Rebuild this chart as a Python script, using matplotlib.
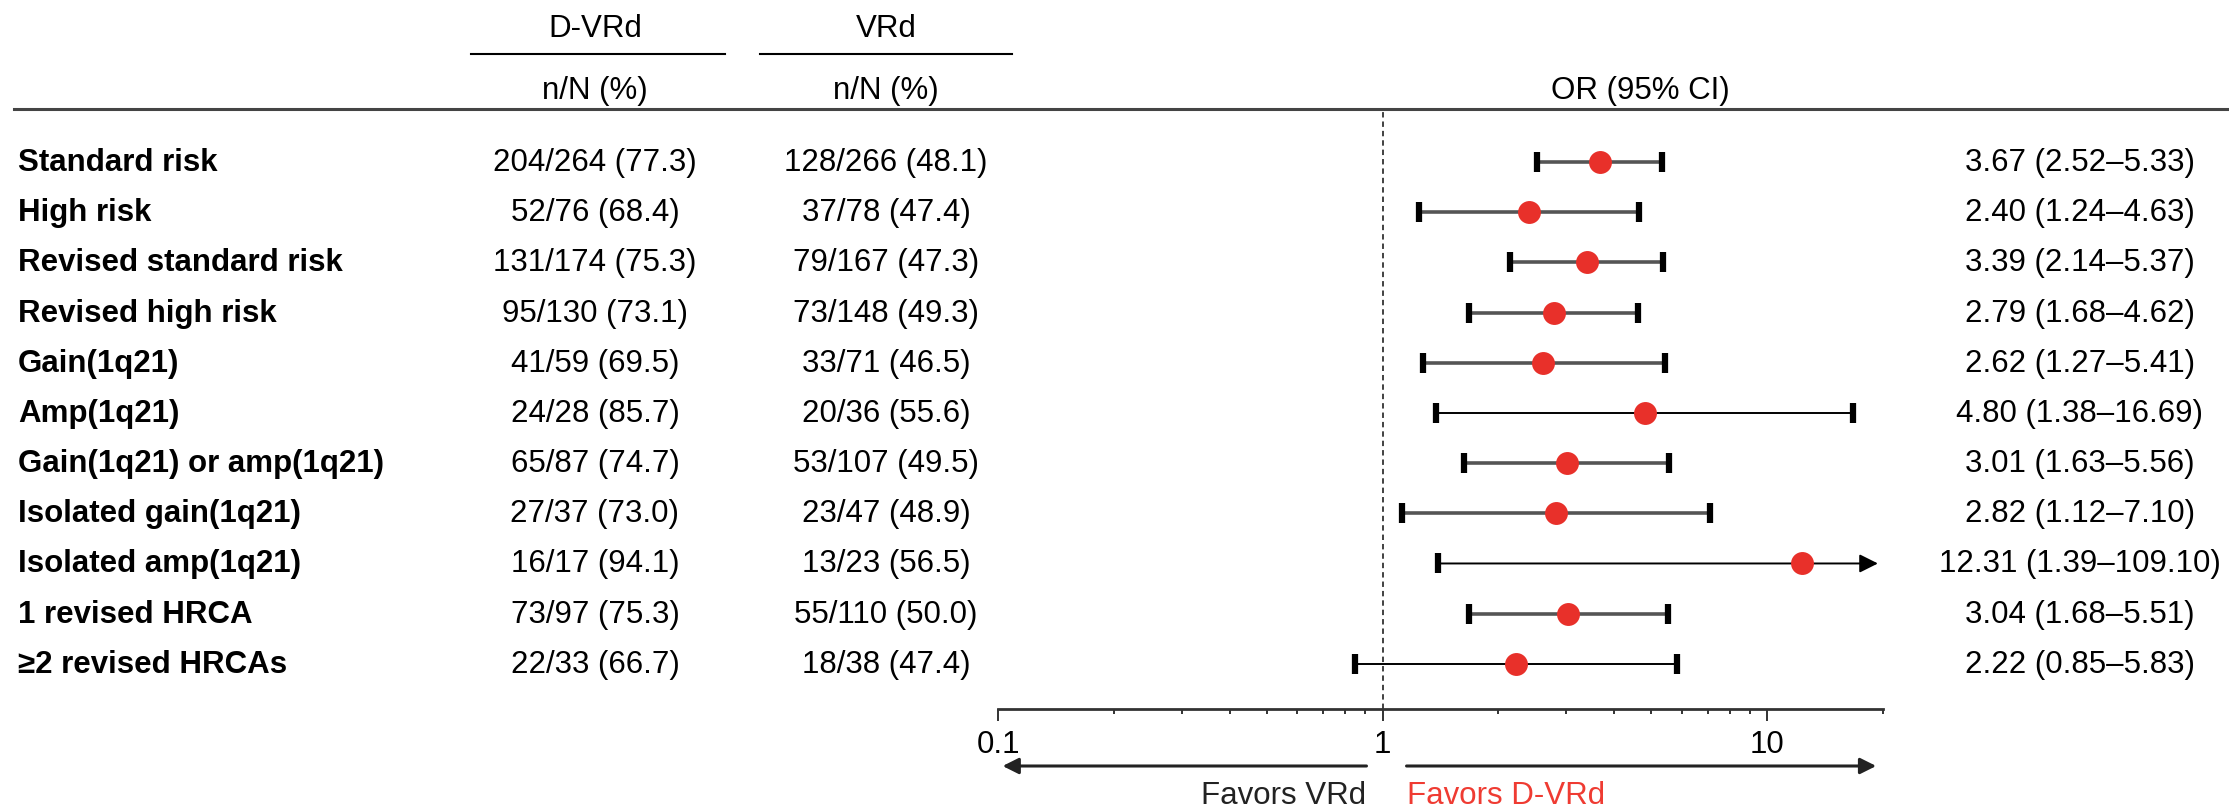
import numpy as np
import matplotlib.pyplot as plt
from matplotlib.lines import Line2D
from matplotlib.ticker import FixedLocator, NullFormatter
from matplotlib.transforms import blended_transform_factory

plt.rcParams['font.family'] = ['Liberation Sans', 'DejaVu Sans']

# -----------------------------
# 1. Dados
# -----------------------------
subgrupos = ['Standard risk', 'High risk', 'Revised standard risk', 'Revised high risk',
             'Gain(1q21)', 'Amp(1q21)', 'Gain(1q21) or amp(1q21)', 'Isolated gain(1q21)',
             'Isolated amp(1q21)', '1 revised HRCA', '≥2 revised HRCAs']
dvrd_n = [204, 52, 131, 95, 41, 24, 65, 27, 16, 73, 22]
dvrd_N = [264, 76, 174, 130, 59, 28, 87, 37, 17, 97, 33]
dvrd_pct = [77.3, 68.4, 75.3, 73.1, 69.5, 85.7, 74.7, 73.0, 94.1, 75.3, 66.7]
vrd_n = [128, 37, 79, 73, 33, 20, 53, 23, 13, 55, 18]
vrd_N = [266, 78, 167, 148, 71, 36, 107, 47, 23, 110, 38]
vrd_pct = [48.1, 47.4, 47.3, 49.3, 46.5, 55.6, 49.5, 48.9, 56.5, 50.0, 47.4]
odds = [3.67, 2.40, 3.39, 2.79, 2.62, 4.80, 3.01, 2.82, 12.31, 3.04, 2.22]
ic_inf = [2.52, 1.24, 2.14, 1.68, 1.27, 1.38, 1.63, 1.12, 1.39, 1.68, 0.85]
ic_sup = [5.33, 4.63, 5.37, 4.62, 5.41, 16.69, 5.56, 7.10, 109.10, 5.51, 5.83]

x_min, x_max = 0.1, 20
ticks_maiores = [0.1, 1, 10]
ticks_menores = [0.2, 0.3, 0.4, 0.5, 0.6, 0.7, 0.8, 0.9, 2, 3, 4, 5, 6, 7, 8, 9, 20]

# -----------------------------
# 2. Layout (pixels)
# -----------------------------
W, H = 2229, 812
FS = 22.5
VERMELHO = '#e8302a'
linhas_finas = {5, 8, 10}

def fx(px):
    return px / W

def fy(py):
    return 1 - py / H

fig = plt.figure(figsize=(W / 100, H / 100), dpi=100)
ax = fig.add_axes([fx(998), fy(710), fx(885), 600 / H])
ax.set_xscale('log')
ax.set_xlim(x_min, x_max)
ax.set_ylim(10.9, -1.056)

# -----------------------------
# 3. Forest plot
# -----------------------------
ax.axvline(1, color='#333333', ls=(0, (3, 2.2)), lw=1.3, zorder=1)

for i in range(len(subgrupos)):
    fino = i in linhas_finas
    cor = 'black' if fino else '#555555'
    lw = 1.4 if fino else 2.6
    if ic_sup[i] > x_max:
        ax.annotate('', xy=(19.4, i), xytext=(ic_inf[i], i),
                    arrowprops=dict(arrowstyle='-|>', color='black', lw=lw,
                                    mutation_scale=28, shrinkA=0, shrinkB=0))
        ax.plot([ic_inf[i]], [i], marker='|', ms=14.5, mew=4.5, color='black', zorder=3)
    else:
        ax.plot([ic_inf[i], ic_sup[i]], [i, i], color=cor, lw=lw, zorder=2,
                solid_capstyle='butt')
        ax.plot([ic_inf[i], ic_sup[i]], [i, i], ls='none', marker='|', ms=14.5, mew=4.5,
                color='black', zorder=3)
    ax.plot(odds[i], i, 'o', ms=16.5, color=VERMELHO, mec='none', zorder=4)

# eixo
for lado in ['top', 'left', 'right']:
    ax.spines[lado].set_visible(False)
ax.spines['bottom'].set_linewidth(2)
ax.spines['bottom'].set_color('#333333')
ax.set_yticks([])
ax.xaxis.set_major_locator(FixedLocator(ticks_maiores))
ax.set_xticklabels(['0.1', '1', '10'])
ax.xaxis.set_minor_locator(FixedLocator(ticks_menores))
ax.xaxis.set_minor_formatter(NullFormatter())
ax.tick_params(axis='x', which='major', length=8.6, width=1.4, pad=6, labelsize=FS,
               color='#333333')
ax.tick_params(axis='x', which='minor', length=3.6, width=1.4, color='#333333')

# setas "Favors"
y_seta = (710 - 767) / 600
ax.annotate('', xy=(0.1028, y_seta), xytext=(0.908, y_seta),
            xycoords=('data', 'axes fraction'), textcoords=('data', 'axes fraction'),
            arrowprops=dict(arrowstyle='-|>', color='#222222', lw=2.2, mutation_scale=24,
                            shrinkA=0, shrinkB=0), annotation_clip=False)
ax.annotate('', xy=(19.2, y_seta), xytext=(1.154, y_seta),
            xycoords=('data', 'axes fraction'), textcoords=('data', 'axes fraction'),
            arrowprops=dict(arrowstyle='-|>', color='#222222', lw=2.2, mutation_scale=24,
                            shrinkA=0, shrinkB=0), annotation_clip=False)
y_fav = (710 - 796) / 600
ax.text(0.905, y_fav, 'Favors VRd', transform=ax.get_xaxis_transform(), ha='right',
        va='center', fontsize=FS, color='#222222')
ax.text(1.154, y_fav, 'Favors D-VRd', transform=ax.get_xaxis_transform(), ha='left',
        va='center', fontsize=FS, color='#ef3b32')

# -----------------------------
# 4. Colunas de texto
# -----------------------------
trans = blended_transform_factory(fig.transFigure, ax.transData)
for i in range(len(subgrupos)):
    ax.text(fx(18), i, subgrupos[i], transform=trans, ha='left', va='center',
            fontsize=FS, fontweight='bold')
    ax.text(fx(595), i, f'{dvrd_n[i]}/{dvrd_N[i]} ({dvrd_pct[i]:.1f})', transform=trans,
            ha='center', va='center', fontsize=FS)
    ax.text(fx(886), i, f'{vrd_n[i]}/{vrd_N[i]} ({vrd_pct[i]:.1f})', transform=trans,
            ha='center', va='center', fontsize=FS)
    ax.text(fx(2080), i, f'{odds[i]:.2f} ({ic_inf[i]:.2f}\u2013{ic_sup[i]:.2f})',
            transform=trans, ha='center', va='center', fontsize=FS)

# cabeçalho
fig.text(fx(595), fy(29), 'D-VRd', ha='center', va='center', fontsize=FS)
fig.text(fx(886), fy(29), 'VRd', ha='center', va='center', fontsize=FS)
fig.add_artist(Line2D([fx(471), fx(725)], [fy(55), fy(55)], color='black', lw=1.5))
fig.add_artist(Line2D([fx(760), fx(1012)], [fy(55), fy(55)], color='black', lw=1.5))
fig.text(fx(595), fy(91), 'n/N (%)', ha='center', va='center', fontsize=FS)
fig.text(fx(886), fy(91), 'n/N (%)', ha='center', va='center', fontsize=FS)
fig.text(fx(1640), fy(91), 'OR (95% CI)', ha='center', va='center', fontsize=FS)
fig.add_artist(Line2D([fx(14), fx(2229)], [fy(110), fy(110)], color='#444444', lw=2.2))

fig.savefig('out.png', dpi=100)
